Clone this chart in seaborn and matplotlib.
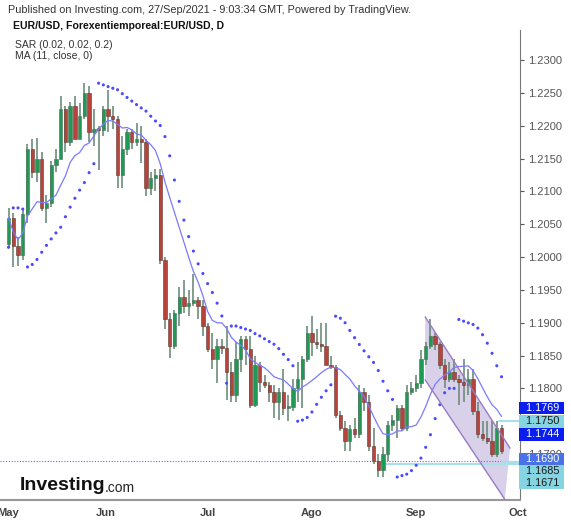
import numpy as np
import pandas as pd
import matplotlib
matplotlib.use("Agg")
import matplotlib.pyplot as plt
import seaborn as sns

# EUR/USD daily bars, 3 May - 24 Sep 2021
opens = [1.2020, 1.2060, 1.2017, 1.2003, 1.2066, 1.2165, 1.2130, 1.2150, 1.2075, 1.2082,
         1.2140, 1.2150, 1.2225, 1.2175, 1.2230, 1.2180, 1.2215, 1.2250, 1.2190, 1.2195, 1.2193,
         1.2225, 1.2215, 1.2210, 1.2125, 1.2165, 1.2190, 1.2175, 1.2180, 1.2175, 1.2105,
         1.2120, 1.2125, 1.1995, 1.1905, 1.1865, 1.1915, 1.1940, 1.1925, 1.1930, 1.1935, 1.1925, 1.1895,
         1.1860, 1.1845, 1.1865, 1.1862, 1.1825, 1.1790, 1.1845, 1.1875, 1.1860, 1.1775, 1.1835, 1.1810,
         1.1805, 1.1795, 1.1780, 1.1795, 1.1770, 1.1772, 1.1800, 1.1815, 1.1845, 1.1885,
         1.1870, 1.1868, 1.1865, 1.1835, 1.1832, 1.1760, 1.1740, 1.1720, 1.1738, 1.1730,
         1.1795, 1.1780, 1.1712, 1.1690, 1.1675, 1.1700, 1.1745, 1.1752, 1.1770, 1.1740, 1.1795, 1.1800,
         1.1808, 1.1845, 1.1865, 1.1880, 1.1868, 1.1835, 1.1815, 1.1825, 1.1815, 1.1810, 1.1805, 1.1815,
         1.1765, 1.1730, 1.1725, 1.1720, 1.1700, 1.1740]
highs = [1.2075, 1.2067, 1.2030, 1.2072, 1.2173, 1.2180, 1.2181, 1.2160, 1.2095, 1.2146,
         1.2165, 1.2245, 1.2230, 1.2236, 1.2245, 1.2235, 1.2265, 1.2260, 1.2225, 1.2200, 1.2230,
         1.2255, 1.2230, 1.2215, 1.2185, 1.2195, 1.2195, 1.2205, 1.2200, 1.2180, 1.2130,
         1.2135, 1.2135, 1.2000, 1.1915, 1.1920, 1.1955, 1.1965, 1.1950, 1.1975, 1.1940, 1.1935, 1.1900,
         1.1885, 1.1875, 1.1875, 1.1895, 1.1840, 1.1870, 1.1880, 1.1880, 1.1880, 1.1850, 1.1840, 1.1820,
         1.1810, 1.1805, 1.1800, 1.1830, 1.1790, 1.1815, 1.1840, 1.1850, 1.1895, 1.1910,
         1.1890, 1.1900, 1.1900, 1.1850, 1.1835, 1.1765, 1.1750, 1.1745, 1.1755, 1.1805,
         1.1800, 1.1790, 1.1740, 1.1700, 1.1710, 1.1750, 1.1760, 1.1775, 1.1775, 1.1805, 1.1810, 1.1820,
         1.1858, 1.1870, 1.1905, 1.1885, 1.1870, 1.1845, 1.1840, 1.1845, 1.1820, 1.1845, 1.1830, 1.1830,
         1.1780, 1.1750, 1.1750, 1.1750, 1.1750, 1.1745]
lows = [1.2015, 1.1985, 1.1986, 1.1995, 1.2052, 1.2120, 1.2115, 1.2070, 1.2052, 1.2076,
        1.2130, 1.2150, 1.2160, 1.2170, 1.2180, 1.2180, 1.2210, 1.2175, 1.2170, 1.2133, 1.2185,
        1.2190, 1.2195, 1.2105, 1.2105, 1.2155, 1.2165, 1.2170, 1.2144, 1.2093, 1.2095,
        1.2100, 1.1990, 1.1890, 1.1847, 1.1860, 1.1895, 1.1915, 1.1910, 1.1925, 1.1905, 1.1880, 1.1855,
        1.1830, 1.1808, 1.1852, 1.1782, 1.1780, 1.1780, 1.1825, 1.1835, 1.1770, 1.1772, 1.1795, 1.1800,
        1.1780, 1.1755, 1.1752, 1.1760, 1.1750, 1.1765, 1.1780, 1.1770, 1.1840, 1.1850,
        1.1860, 1.1855, 1.1835, 1.1830, 1.1755, 1.1735, 1.1705, 1.1705, 1.1725, 1.1725,
        1.1765, 1.1705, 1.1685, 1.1665, 1.1665, 1.1690, 1.1735, 1.1725, 1.1735, 1.1735, 1.1790, 1.1795,
        1.1800, 1.1835, 1.1860, 1.1858, 1.1830, 1.1800, 1.1810, 1.1810, 1.1775, 1.1780, 1.1790, 1.1760,
        1.1725, 1.1720, 1.1715, 1.1695, 1.1695, 1.1700]
closes = [1.2060, 1.2017, 1.2003, 1.2066, 1.2165, 1.2130, 1.2150, 1.2075, 1.2082, 1.2140,
          1.2150, 1.2225, 1.2175, 1.2230, 1.2180, 1.2215, 1.2250, 1.2190, 1.2195, 1.2193, 1.2225,
          1.2215, 1.2210, 1.2125, 1.2165, 1.2190, 1.2175, 1.2180, 1.2175, 1.2105, 1.2120,
          1.2125, 1.1995, 1.1905, 1.1865, 1.1915, 1.1940, 1.1925, 1.1930, 1.1935, 1.1925, 1.1895, 1.1860,
          1.1845, 1.1865, 1.1862, 1.1825, 1.1790, 1.1845, 1.1875, 1.1860, 1.1775, 1.1835, 1.1810, 1.1805,
          1.1795, 1.1780, 1.1795, 1.1770, 1.1772, 1.1800, 1.1815, 1.1845, 1.1885, 1.1870,
          1.1868, 1.1865, 1.1835, 1.1832, 1.1760, 1.1740, 1.1720, 1.1738, 1.1730, 1.1795,
          1.1780, 1.1712, 1.1690, 1.1675, 1.1700, 1.1745, 1.1752, 1.1770, 1.1740, 1.1795, 1.1800, 1.1808,
          1.1845, 1.1865, 1.1880, 1.1868, 1.1835, 1.1815, 1.1825, 1.1815, 1.1810, 1.1805, 1.1815, 1.1765,
          1.1730, 1.1725, 1.1720, 1.1700, 1.1740, 1.1705]

month_labels = ["May", "Jun", "Jul", "Ago", "Sep", "Oct"]
month_pos = [0, 20.5, 42, 64, 86, 107.5]   # bar index of each month start
price_ticks = [1.1700, 1.1750, 1.1800, 1.1850, 1.1900, 1.1950, 1.2000, 1.2050,
               1.2100, 1.2150, 1.2200, 1.2250, 1.2300]

# price tags on the right axis: value, where the tag sits, box colour, text colour
tag_values = [1.1769, 1.1750, 1.1744, 1.1690, 1.1685, 1.1671]
tag_place = [1.1770, 1.1750, 1.1730, 1.16922, 1.16739, 1.16556]
tag_colors = ["#0b1ef0", "#86d3e2", "#0b1ef0", "#4a72e8", "#86d3e2", "#86d3e2"]
tag_text = ["white", "#1a1a1a", "white", "white", "#1a1a1a", "#1a1a1a"]

# drawn channel (bar index, price)
chan_top = [(87.9, 1.1909), (105.8, 1.1709)]
chan_bot = [(87.9, 1.1813), (104.7, 1.1631)]

dates = pd.bdate_range("2021-05-03", "2021-09-24")
df = pd.DataFrame({"date": dates, "open": opens, "high": highs, "low": lows, "close": closes})
df["i"] = np.arange(len(df))
df["ma"] = df["close"].rolling(11, min_periods=1).mean()


def parabolic_sar(high, low, step=0.02, max_step=0.2):
    sar = np.zeros(len(high))
    up = True
    af = step
    ep = high[0]
    sar[0] = low[0]
    for k in range(1, len(high)):
        s = sar[k - 1] + af * (ep - sar[k - 1])
        if up:
            s = min(s, low[k - 1], low[max(k - 2, 0)])
            if low[k] < s:
                up, s, ep, af = False, ep, low[k], step
            elif high[k] > ep:
                ep, af = high[k], min(af + step, max_step)
        else:
            s = max(s, high[k - 1], high[max(k - 2, 0)])
            if high[k] > s:
                up, s, ep, af = True, ep, high[k], step
            elif low[k] < ep:
                ep, af = low[k], min(af + step, max_step)
        sar[k] = s
    return sar


df["sar"] = parabolic_sar(df["high"].values, df["low"].values)

sns.set_style("white")
plt.rcParams["font.family"] = ["Liberation Sans", "DejaVu Sans"]

fig = plt.figure(figsize=(5.71, 5.2), dpi=100)
ax = fig.add_axes([0, 20 / 520, 520 / 571, 470 / 520])

up = df["close"] >= df["open"]
green, red = "#1f9a55", "#b8433a"
ax.vlines(df["i"], df["low"], df["high"], color="#6d8c7a", lw=1.2, zorder=2)
body = (df["close"] - df["open"]).abs().clip(lower=0.0003)
ax.bar(df["i"][up], body[up], bottom=df["open"][up], width=0.7, color=green,
       edgecolor="#4f6b5a", lw=0.4, zorder=3)
ax.bar(df["i"][~up], body[~up], bottom=df["close"][~up], width=0.7, color=red,
       edgecolor="#5a3a35", lw=0.4, zorder=3)

sns.lineplot(data=df, x="i", y="ma", ax=ax, color="#7a7aff", lw=0.9, zorder=4)
sns.scatterplot(data=df, x="i", y="sar", ax=ax, color="#4a4aff", s=5, edgecolor="none", zorder=4)

# channel
poly_x = [chan_top[0][0], chan_top[1][0], chan_bot[1][0], chan_bot[0][0]]
poly_y = [chan_top[0][1], chan_top[1][1], chan_bot[1][1], chan_bot[0][1]]
ax.fill(poly_x, poly_y, color="#c9bde0", alpha=0.7, lw=0, zorder=1)
ax.plot([p[0] for p in chan_top], [p[1] for p in chan_top], color="#9a7cc4", lw=1, zorder=5)
ax.plot([p[0] for p in chan_bot], [p[1] for p in chan_bot], color="#9a7cc4", lw=1, zorder=5)

# level lines
ax.axhline(1.1690, color="#5a6cff", lw=0.8, ls=(0, (1, 1.5)), zorder=1)
ax.plot([103.5, 108], [1.1750, 1.1750], color="#a8e0ea", lw=1.5, zorder=1)
ax.plot([78, 108], [1.1685, 1.1685], color="#a8e0ea", lw=1.5, zorder=1)
ax.plot([104, 108], [1.1688, 1.1688], color="#a8e0ea", lw=1.5, zorder=1)

ax.set_xticks(month_pos)
ax.set_xticklabels(month_labels, fontsize=8, fontweight="bold", color="#444444")
ax.set_xlim(-1.8, 107.9)
ax.set_ylim(1.1630, 1.2346)
ax.yaxis.tick_right()
ax.set_yticks(price_ticks)
ax.set_yticklabels([f"{v:.4f}" for v in price_ticks], fontsize=8, color="#555555")
ax.tick_params(axis="both", length=3, color="#555555", pad=3)
ax.set_xlabel("")
ax.set_ylabel("")
for side in ["top", "left"]:
    ax.spines[side].set_visible(False)
ax.spines["right"].set_color("#777777")
ax.spines["bottom"].set_color("#999999")
ax.spines["bottom"].set_linewidth(1.5)

for v, yp, c, tc in zip(tag_values, tag_place, tag_colors, tag_text):
    ax.text(1.0, yp, f"  {v:.4f} ", transform=ax.get_yaxis_transform(), fontsize=7.8,
            color=tc, va="center", ha="left",
            bbox=dict(boxstyle="square,pad=0.12", fc=c, ec="none"), zorder=6)

fig.text(8 / 571, 1 - 10 / 520, "Published on Investing.com, 27/Sep/2021 - 9:03:34 GMT, Powered by TradingView.",
         fontsize=7.8, color="#333333", va="center")
fig.text(13 / 571, 1 - 26 / 520, "EUR/USD, Forexentiemporeal:EUR/USD, D", fontsize=7.6,
         fontweight="bold", color="#111111", va="center")
fig.text(15 / 571, 1 - 45 / 520, "SAR (0.02, 0.02, 0.2)", fontsize=7.5, color="#333333", va="center")
fig.text(15 / 571, 1 - 56 / 520, "MA (11, close, 0)", fontsize=7.5, color="#333333", va="center")
fig.text(20 / 571, 1 - 486 / 520, "Investing", fontsize=14, fontweight="bold", color="#111111", va="center")
fig.text(105 / 571, 1 - 488 / 520, ".com", fontsize=10, color="#222222", va="center")

fig.savefig("out.png", dpi=100)
